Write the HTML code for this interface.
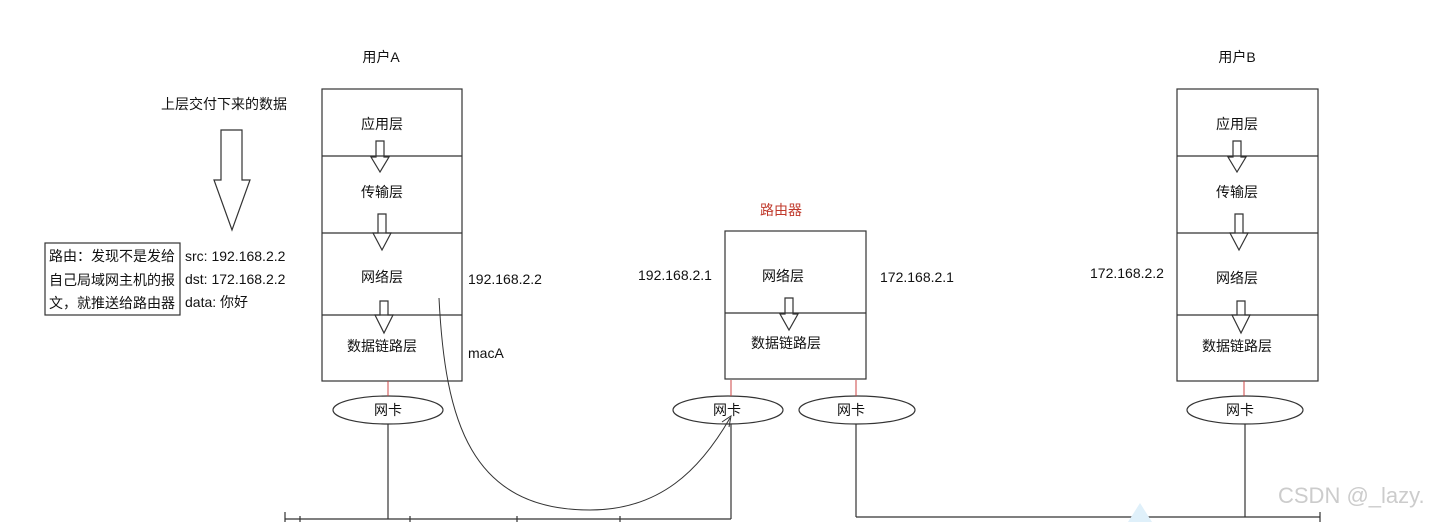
<!DOCTYPE html>
<html><head><style>body{margin:0;background:#fff}svg text{font-family:"Liberation Sans","Noto Sans CJK SC",sans-serif;font-size:14px;fill:#111}</style></head><body>
<svg width="1448" height="522" xmlns="http://www.w3.org/2000/svg">
<g fill="none" stroke="#333" stroke-width="1.2">
<rect x="322" y="89" width="140" height="292"/>
<line x1="322" y1="156" x2="462" y2="156"/><line x1="322" y1="233" x2="462" y2="233"/><line x1="322" y1="315" x2="462" y2="315"/>
<rect x="725" y="231" width="141" height="148"/><line x1="725" y1="313" x2="866" y2="313"/>
<rect x="1177" y="89" width="141" height="292"/>
<line x1="1177" y1="156" x2="1318" y2="156"/><line x1="1177" y1="233" x2="1318" y2="233"/><line x1="1177" y1="315" x2="1318" y2="315"/>
<rect x="45" y="243" width="135" height="72"/>
<path d="M221,130 H242 V180 H250 L232,230 L214,180 H221 Z"/>
<path d="M376,141 h8 v16 h5 l-9,15 l-9,-15 h5 z"/>
<path d="M378,214 h8 v19 h5 l-9,17 l-9,-17 h5 z"/>
<path d="M380,301 h8 v14 h5 l-9,18 l-9,-18 h5 z"/>
<path d="M785,298 h8 v16 h5 l-9,16 l-9,-16 h5 z"/>
<path d="M1233,141 h8 v16 h5 l-9,15 l-9,-15 h5 z"/>
<path d="M1235,214 h8 v19 h5 l-9,17 l-9,-17 h5 z"/>
<path d="M1237,301 h8 v14 h5 l-9,18 l-9,-18 h5 z"/>
<ellipse cx="388" cy="410" rx="55" ry="14"/>
<ellipse cx="728" cy="410" rx="55" ry="14"/>
<ellipse cx="857" cy="410" rx="58" ry="14"/>
<ellipse cx="1245" cy="410" rx="58" ry="14"/>
<path d="M388,424 V519 M731,424 V519 M856,424 V517 M1245,424 V517"/>
<path d="M285,519 H731 M285,512 V522 M300,516 V522 M410,516 V522 M517,516 V522 M620,516 V522"/>
<path d="M856,517 H1320 M1320,512 V522"/>
<path d="M439,298 C445,420 470,510 590,510 C660,510 700,470 730,418" stroke-width="1"/>
<path d="M722,422 L731,416 L729,427" stroke-width="1"/>
</g>
<g stroke="#c44" stroke-width="1"><path d="M388,381 V396 M731,380 V396 M856,380 V396 M1244,381 V396"/></g>
<polygon points="1128,522 1140,503 1152,522" fill="#dff0fa"/>
<g text-anchor="middle">
<text x="381" y="62">用户A</text><text x="1237" y="62">用户B</text>
<text x="382" y="129">应用层</text><text x="382" y="197">传输层</text><text x="382" y="282">网络层</text><text x="382" y="351">数据链路层</text>
<text x="1237" y="129">应用层</text><text x="1237" y="197">传输层</text><text x="1237" y="283">网络层</text><text x="1237" y="351">数据链路层</text>
<text x="783" y="281">网络层</text><text x="786" y="348">数据链路层</text>
<text x="781" y="215" style="fill:#c0392b">路由器</text>
<text x="388" y="415">网卡</text><text x="727" y="415">网卡</text><text x="851" y="415">网卡</text><text x="1240" y="415">网卡</text>
<text x="224" y="109">上层交付下来的数据</text>
</g>
<text x="49" y="261">路由：发现不是发给</text>
<text x="49" y="285">自己局域网主机的报</text>
<text x="49" y="308">文，就推送给路由器</text>
<text x="185" y="261">src: 192.168.2.2</text>
<text x="185" y="284">dst: 172.168.2.2</text>
<text x="185" y="307">data: 你好</text>
<text x="468" y="284">192.168.2.2</text>
<text x="468" y="358">macA</text>
<text x="638" y="280">192.168.2.1</text>
<text x="880" y="282">172.168.2.1</text>
<text x="1090" y="278">172.168.2.2</text>
<text x="1278" y="503" style="font-size:22px;fill:#ccc">CSDN @_lazy.</text>
</svg>
</body></html>
